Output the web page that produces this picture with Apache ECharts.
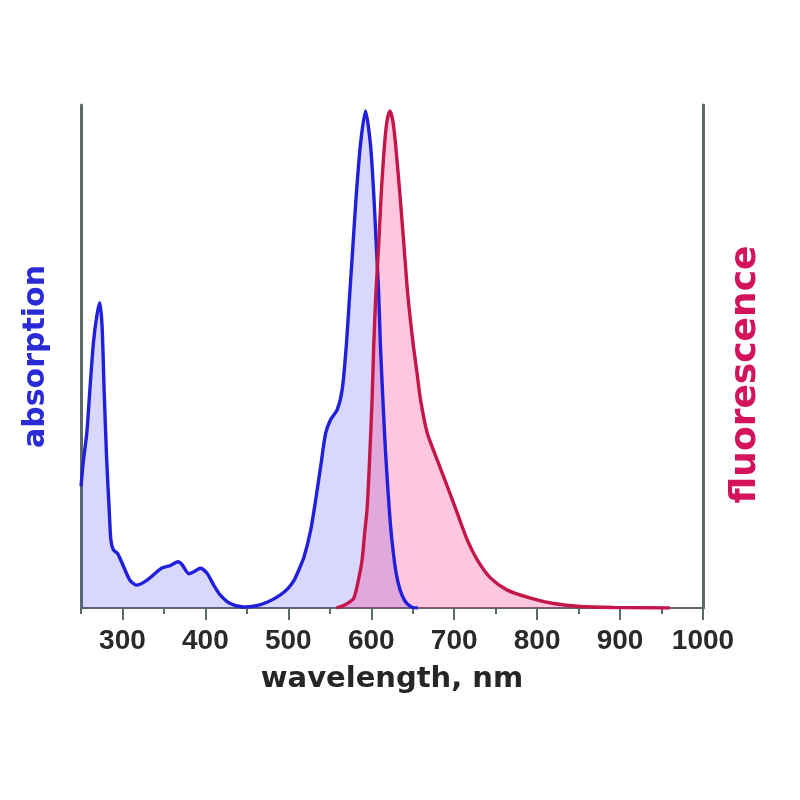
<!DOCTYPE html>
<html>
<head>
<meta charset="utf-8">
<script src="https://cdn.jsdelivr.net/npm/echarts@6/dist/echarts.min.js"></script>
<style>
  html, body { margin: 0; padding: 0; background: #fff; }
  #chart { width: 800px; height: 800px; }
</style>
</head>
<body>
<div id="chart"></div>
<script>
// absorption spectrum (normalised)
const absWl = [250, 253, 257, 261, 265, 269, 272.6, 275.4, 278, 281,
    284, 286, 289, 294, 297, 303, 309, 317, 327, 337,
    347, 357, 367, 372, 380, 386, 394, 402, 410, 418,
    430, 446, 460, 475, 490, 500, 507, 513, 519, 527,
    533, 539, 545, 551, 559, 565, 570, 574, 578, 582,
    587, 593, 599, 603, 606, 609, 611, 614, 617, 620,
    623, 626, 630, 635, 640, 645, 650, 656];
const absVal = [0.245, 0.298, 0.352, 0.446, 0.534, 0.587, 0.614, 0.567, 0.433, 0.298,
    0.198, 0.137, 0.117, 0.110, 0.100, 0.077, 0.056, 0.046, 0.053, 0.066,
    0.080, 0.085, 0.093, 0.087, 0.069, 0.073, 0.080, 0.070, 0.046, 0.026,
    0.009, 0.002, 0.004, 0.012, 0.026, 0.040, 0.056, 0.078, 0.103, 0.157,
    0.218, 0.285, 0.352, 0.379, 0.399, 0.44, 0.53, 0.631, 0.732, 0.833,
    0.933, 1.0, 0.933, 0.833, 0.732, 0.631, 0.53, 0.42, 0.32, 0.24,
    0.17, 0.12, 0.07, 0.035, 0.016, 0.006, 0.001, 0];

// fluorescence spectrum (normalised)
const fluWl = [558, 565, 572, 579, 585, 589, 592, 595, 598, 601,
    603, 605.5, 609, 612, 616, 619, 622.5, 626, 629.3, 634.5,
    639.3, 644, 650.6, 655.4, 659.4, 667.5, 679.5, 691.6, 703.7, 715.7,
    727.8, 744, 764, 792, 820, 852, 892, 960];
const fluVal = [0, 0.004, 0.01, 0.02, 0.06, 0.097, 0.15, 0.2, 0.3, 0.42,
    0.53, 0.631, 0.732, 0.833, 0.933, 0.98, 1.0, 0.98, 0.933, 0.833,
    0.732, 0.631, 0.53, 0.47, 0.419, 0.352, 0.298, 0.245, 0.191, 0.137,
    0.097, 0.060, 0.036, 0.020, 0.009, 0.003, 0.001, 0];

// x axis ticks
const majorTicks = [300, 400, 500, 600, 700, 800, 900, 1000];

const axisColor = '#5b696b';
const blue = '#2020dc';
const red = '#c41648';

function pairs(xs, ys) {
    return xs.map((x, i) => [x, ys[i]]);
}

const chart = echarts.init(document.getElementById('chart'));

const option = {
    animation: false,
    grid: { left: 81, right: 97, top: 105, bottom: 192 },
    xAxis: [{
        type: 'value',
        min: 250,
        max: 1000,
        name: 'wavelength, nm',
        nameLocation: 'middle',
        nameGap: 57,
        nameTextStyle: {
            fontFamily: 'DejaVu Sans',
            fontWeight: 'bold',
            fontSize: 29,
            color: '#262626'
        },
        axisLine: { lineStyle: { color: axisColor, width: 2 } },
        axisTick: {
            customValues: majorTicks,
            length: 12,
            lineStyle: { color: axisColor, width: 2 }
        },
        axisLabel: {
            customValues: majorTicks,
            formatter: v => String(v),
            margin: 19,
            fontFamily: 'Liberation Sans',
            fontWeight: 'bold',
            fontSize: 28,
            color: '#2a2a2a'
        },
        splitLine: { show: false }
    }, {
        // minor ticks every 50 nm
        type: 'value',
        min: 250,
        max: 1000,
        interval: 50,
        position: 'bottom',
        axisLine: { show: false },
        axisTick: { length: 6, lineStyle: { color: axisColor, width: 2 } },
        axisLabel: { show: false },
        splitLine: { show: false }
    }],
    yAxis: [{
        type: 'value',
        min: 0,
        max: 1.012,
        position: 'left',
        name: 'absorption',
        nameLocation: 'middle',
        nameRotate: 90,
        nameGap: 30,
        nameTextStyle: {
            fontFamily: 'DejaVu Sans',
            fontWeight: 'bold',
            fontSize: 30,
            color: '#2b2bd6'
        },
        axisLine: { show: true, lineStyle: { color: axisColor, width: 3 } },
        axisTick: { show: false },
        axisLabel: { show: false },
        splitLine: { show: false }
    }, {
        type: 'value',
        min: 0,
        max: 1.012,
        position: 'right',
        name: 'fluorescence',
        nameLocation: 'middle',
        nameRotate: 90,
        nameGap: 25,
        nameTextStyle: {
            fontFamily: 'DejaVu Sans',
            fontWeight: 'bold',
            fontSize: 36,
            color: '#d3145c',
            padding: [0, 36, 0, 0]
        },
        axisLine: { show: true, lineStyle: { color: axisColor, width: 3 } },
        axisTick: { show: false },
        axisLabel: { show: false },
        splitLine: { show: false }
    }],
    series: [{
        // filled areas first, lines drawn on top
        type: 'line',
        yAxisIndex: 0,
        data: pairs(absWl, absVal),
        smooth: 0.25,
        symbol: 'none',
        lineStyle: { width: 0 },
        areaStyle: { color: 'rgba(70, 60, 235, 0.29)' },
        z: 1
    }, {
        type: 'line',
        yAxisIndex: 1,
        data: pairs(fluWl, fluVal),
        smooth: 0.25,
        symbol: 'none',
        lineStyle: { width: 0 },
        areaStyle: { color: 'rgba(248, 45, 130, 0.38)' },
        z: 2
    }, {
        type: 'line',
        yAxisIndex: 0,
        data: pairs(absWl, absVal),
        smooth: 0.25,
        symbol: 'none',
        lineStyle: { color: blue, width: 3.4 },
        z: 3
    }, {
        type: 'line',
        yAxisIndex: 1,
        data: pairs(fluWl, fluVal),
        smooth: 0.25,
        symbol: 'none',
        lineStyle: { color: red, width: 3.4 },
        z: 4
    }]
};

chart.setOption(option);
window.addEventListener('resize', function () {
    chart.resize();
});
</script>
</body>
</html>
